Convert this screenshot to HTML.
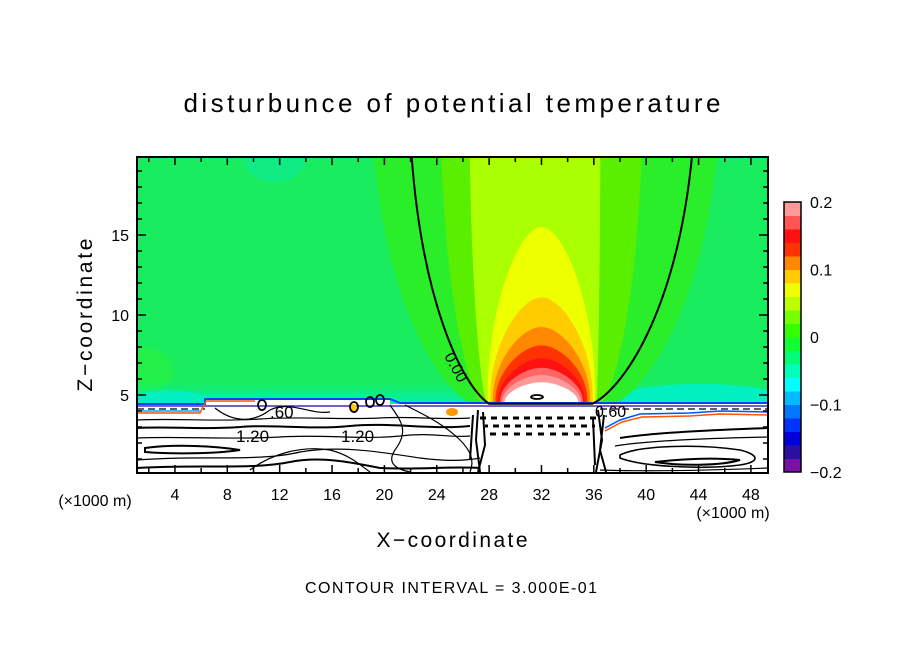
<!DOCTYPE html>
<html><head><meta charset="utf-8">
<style>
html,body{margin:0;padding:0;background:#fff;}
svg{display:block;font-family:"Liberation Sans",sans-serif;}
</style></head>
<body>
<svg id="chart" width="904" height="654" viewBox="0 0 904 654" xmlns="http://www.w3.org/2000/svg">
<defs>
<clipPath id="plotclip"><rect x="137" y="157" width="631" height="316"/></clipPath>
<linearGradient id="mintg" x1="0" y1="0" x2="0" y2="1">
<stop offset="0" stop-color="#00f0b0" stop-opacity="0"/><stop offset="1" stop-color="#00f0b8"/></linearGradient>
</defs>
<text x="452" y="112" font-size="26" text-anchor="middle" textLength="537" lengthAdjust="spacing">disturbunce of potential temperature</text>
<g id="plot" clip-path="url(#plotclip)">
  <rect x="137" y="157" width="631" height="316" fill="#1aec60"/>
  <ellipse cx="145" cy="370" rx="28" ry="22" fill="#22f048"/>
  <ellipse cx="275" cy="160" rx="30" ry="22" fill="#10eb84"/>
  <rect x="137" y="382" width="631" height="24" fill="url(#mintg)"/>
  <ellipse cx="700" cy="398" rx="80" ry="14" fill="#00f0c0"/>
  <ellipse cx="170" cy="400" rx="40" ry="9" fill="#00f0c0"/>
  <g id="plume"></g>
  <g id="lower">
    <rect x="137" y="404" width="631" height="69" fill="#fff"/>
    <rect x="205" y="398" width="185" height="8" fill="#fff"/>
    <path d="M137 404 H205 V399 H390 L400 403 H768" stroke="#0044ff" stroke-width="2" fill="none"/>
    <path d="M137 406 H768" stroke="#2200aa" stroke-width="1.2" fill="none"/>
    <path d="M137 409 H205 M600 409 H768" stroke="#000" stroke-width="1.2" stroke-dasharray="7 4" fill="none"/>
    <path d="M137 413 H200 L206 401 H255" stroke="#ff5500" stroke-width="1.5" fill="none"/>
    <path d="M137 411 H200" stroke="#00aaff" stroke-width="1.5" fill="none"/>
    <path d="M605 428 L620 420 L640 414 L690 413 L720 411 L768 412" stroke="#0055ff" stroke-width="1.5" fill="none"/>
    <path d="M605 431 L622 422 L642 417 L690 416 L720 414 L768 415" stroke="#ff5500" stroke-width="1.5" fill="none"/>
    <ellipse cx="452" cy="412" rx="6" ry="4" fill="#ff9900"/>
    <ellipse cx="353" cy="408" rx="4" ry="4" fill="#ffcc00"/>
    <g stroke="#000" fill="none" stroke-width="1.2">
      <path d="M137 420 C180 418 220 422 260 419 C300 416 340 420 380 418 C410 416 440 420 470 418"/>
      <path d="M137 428 C170 426 200 430 240 427 C270 424 310 430 350 426 C390 422 430 430 470 426" stroke-width="2"/>
      <path d="M137 438 C180 436 230 440 280 437 C320 434 360 440 400 436 C430 432 450 438 470 436"/>
      <path d="M145 448 C175 444 215 446 240 450 C215 454 170 454 145 452 Z" stroke-width="2"/>
      <path d="M137 460 C200 455 260 462 300 452 C340 445 380 452 420 458 C450 462 470 460 480 458"/>
      <path d="M137 468 C200 464 250 470 290 462 C320 456 350 462 380 468 C420 470 450 466 480 468" stroke-width="2"/>
      <path d="M215 408 C230 420 250 425 270 410 C290 400 310 415 330 412"/>
      <path d="M390 405 C400 420 410 430 395 450 C385 465 400 470 410 472"/>
      <path d="M405 405 C425 415 445 425 460 440 C470 450 475 460 470 472"/>
      <path d="M250 470 C270 455 300 445 330 450 C350 455 360 465 370 472"/>
      <path d="M620 438 C660 432 720 430 768 428" stroke-width="2"/>
      <path d="M615 446 C650 440 720 438 768 437"/>
      <path d="M620 455 C640 445 700 444 740 450 C760 455 760 462 740 465 C700 470 640 466 620 458 Z" stroke-width="1.6"/>
      <path d="M655 462 C690 458 720 458 740 460 C720 466 680 466 655 462 Z" stroke-width="2"/>
      <path d="M600 470 C660 472 720 470 768 468"/>
    </g>
    <g stroke="#000" stroke-width="3">
      <path d="M480 418 H600" stroke-dasharray="6 5"/>
      <path d="M485 426 H595" stroke-dasharray="6 5" stroke-dashoffset="3"/>
      <path d="M490 434 H590" stroke-dasharray="6 6"/>
    </g>
    <g stroke="#000" fill="none" stroke-width="2">
      <path d="M478 410 L476 440 L480 472 M483 412 L485 445 L478 472 M473 415 L470 460"/>
      <path d="M598 410 L602 440 L596 472 M604 415 L600 450 L606 472 M593 418 L595 465"/>
    </g>
    <rect x="492" y="440" width="96" height="33" fill="#fff"/>
    <g stroke="#000" stroke-width="1.8" fill="none">
      <ellipse cx="262" cy="405" rx="4" ry="5"/>
      <ellipse cx="354" cy="407" rx="4" ry="5"/>
      <ellipse cx="370" cy="402" rx="4" ry="5"/>
      <ellipse cx="380" cy="400" rx="4" ry="5"/>
    </g>
    <text x="236" y="442" font-size="17">1.20</text>
    <text x="341" y="442" font-size="17">1.20</text>
    <text x="270" y="418" font-size="17">.60</text>
    <text x="595" y="417" font-size="16">0.60</text>
  </g>
  <ellipse cx="537" cy="397" rx="6" ry="2" stroke="#000" stroke-width="1.8" fill="none"/>
  <path id="zero-contour" fill="none" stroke="#000" stroke-width="2"/>
  <text x="0" y="0" font-size="16" transform="translate(444,356) rotate(62)">0.00</text>
</g>
<rect x="137" y="157" width="631" height="316" fill="none" stroke="#000" stroke-width="2"/>
<g id="ticks"></g>
<g id="colorbar"></g>
<text x="0" y="0" font-size="21" text-anchor="middle" transform="translate(92,315) rotate(-90)" textLength="153">Z−coordinate</text>
<text x="452" y="547" font-size="21" text-anchor="middle" textLength="151">X−coordinate</text>
<text x="95" y="506" font-size="16" text-anchor="middle">(×1000 m)</text>
<text x="733" y="518" font-size="16" text-anchor="middle">(×1000 m)</text>
<text x="451" y="593" font-size="16" text-anchor="middle" textLength="292">CONTOUR INTERVAL = 3.000E-01</text>
</svg>
<script>
var xTickLabels=[4,8,12,16,20,24,28,32,36,40,44,48];
var yTickLabels=[5,10,15];
var cbLabels=["0.2","0.1","0","−0.1","−0.2"];
var cbValues=[0.2,0.1,0,-0.1,-0.2];
var cbColors=["#7a10a8","#2a10a0","#0000dd","#0033ff","#0077ff","#00bbff","#00ffff","#00ffbb","#00ff77","#11ff33","#33ff00","#77ff00","#bbff00","#eeff00","#ffcc00","#ff8800","#ff3300","#ff1111","#ff5555","#ff9999"];
// plume bands reaching top (km): top-left x, top-right x, base-left x, base-right x
var topLevels=[0.01,0.02,0.04];
var topLeftX=[19.1,24.3,26.5];
var topRightX=[45.5,39.7,36.5];
var baseLeftX=[26.6,27.4,27.8];
var baseRightX=[37.6,36.6,36.2];
var topColors=["#2aee2a","#5aee00","#aaff00"];
// closed plume bands: apex z (km), base half width (km)
var capLevels=[0.06,0.08,0.10,0.12,0.14,0.16,0.18,0.20];
var capApexZ=[15.5,11.1,9.25,8.1,7.3,6.7,6.25,5.8];
var capBaseHW=[4.1,3.9,3.7,3.5,3.3,3.15,3.0,2.8];
var capColors=["#eeff00","#ffcc00","#ff8800","#ff3300","#ff1111","#ff6666","#ff9999","#ffffff"];
// zero contour (km)
var zeroTopLeft=22.0, zeroTopRight=43.6, zeroBaseLeft=28.0, zeroBaseRight=35.9;
var plumeCenter=32, plumeBaseZ=4.45, zTop=19.9;

var NS="http://www.w3.org/2000/svg";
function px(x){return 122.6+13.09*x;}
function py(z){return 475-16*z;}
function el(t,a,p){var e=document.createElementNS(NS,t);for(var k in a)e.setAttribute(k,a[k]);p.appendChild(e);return e;}
function leftEdge(tl,bl){
  return "M"+px(tl)+" "+py(zTop+1)+
   " C"+px(tl+(bl-tl)*0.12)+" "+py(11)+" "+px(bl-(bl-tl)*0.35)+" "+py(5.6)+" "+px(bl)+" "+py(plumeBaseZ);
}
function rightEdge(tr,br){
  return "L"+px(br)+" "+py(plumeBaseZ)+
   " C"+px(br+(tr-br)*0.35)+" "+py(5.6)+" "+px(tr-(tr-br)*0.12)+" "+py(11)+" "+px(tr)+" "+py(zTop+1);
}
function capPath(az,hw){
  var bl=plumeCenter-hw, br=plumeCenter+hw, h=az-plumeBaseZ;
  return "M"+px(bl)+" "+py(plumeBaseZ)+
   " C"+px(bl-0.2)+" "+py(plumeBaseZ+h*0.5)+" "+px(plumeCenter-hw*0.45)+" "+py(az)+" "+px(plumeCenter)+" "+py(az)+
   " C"+px(plumeCenter+hw*0.45)+" "+py(az)+" "+px(br+0.2)+" "+py(plumeBaseZ+h*0.5)+" "+px(br)+" "+py(plumeBaseZ)+" Z";
}
var plume=document.getElementById("plume");
for(var i=0;i<topLevels.length;i++){
  var p=el("path",{d:leftEdge(topLeftX[i],baseLeftX[i])+" "+rightEdge(topRightX[i],baseRightX[i])+" Z",fill:topColors[i]},plume);
  
  
}
for(var j=0;j<capLevels.length;j++){
  var c=el("path",{d:capPath(capApexZ[j],capBaseHW[j]),fill:capColors[j]},plume);
  
  
}
document.getElementById("zero-contour").setAttribute("d",leftEdge(zeroTopLeft,zeroBaseLeft)+" "+rightEdge(zeroTopRight,zeroBaseRight));

var ticks=document.getElementById("ticks");
for(var x=2;x<=48;x+=2){
  var L=(x%4===0)?8:5;
  var t1=el("line",{x1:px(x),x2:px(x),y1:157,y2:157+L,stroke:"#000","stroke-width":1.5},ticks);
  
  
  var t2=el("line",{x1:px(x),x2:px(x),y1:473,y2:473-L,stroke:"#000","stroke-width":1.5},ticks);
  
  
}
for(var z=1;z<=19;z++){
  var Ly=(z%5===0)?9:5;
  var t3=el("line",{x1:137,x2:137+Ly,y1:py(z),y2:py(z),stroke:"#000","stroke-width":1.5},ticks);
  
  
  var t4=el("line",{x1:768,x2:768-Ly,y1:py(z),y2:py(z),stroke:"#000","stroke-width":1.5},ticks);
  
  
}
xTickLabels.forEach(function(v){
  var t=el("text",{x:px(v),y:500,"font-size":16,"text-anchor":"middle"},ticks);
  t.textContent=v;
  
  
});
yTickLabels.forEach(function(v){
  var t=el("text",{x:129,y:py(v)+6,"font-size":16,"text-anchor":"end"},ticks);
  t.textContent=v;
  
  
});
var cb=document.getElementById("colorbar");
var cbTop=202, cbBot=472, cbX=784, cbW=17, n=cbColors.length, h=(cbBot-cbTop)/n;
function cy(v){return cbBot-(v+0.2)/0.4*(cbBot-cbTop);}
for(var k=0;k<n;k++){
  var r=el("rect",{x:cbX,y:cbBot-(k+1)*h,width:cbW,height:h+0.5,fill:cbColors[k]},cb);
  
  
}
var fr=el("rect",{x:cbX,y:cbTop,width:cbW,height:cbBot-cbTop,fill:"none",stroke:"#000","stroke-width":1.5},cb);


for(var m=0;m<cbLabels.length;m++){
  var t=el("text",{x:810,y:cy(cbValues[m])+6,"font-size":16},cb);
  t.textContent=cbLabels[m];
  
  
}
</script>
</body></html>
